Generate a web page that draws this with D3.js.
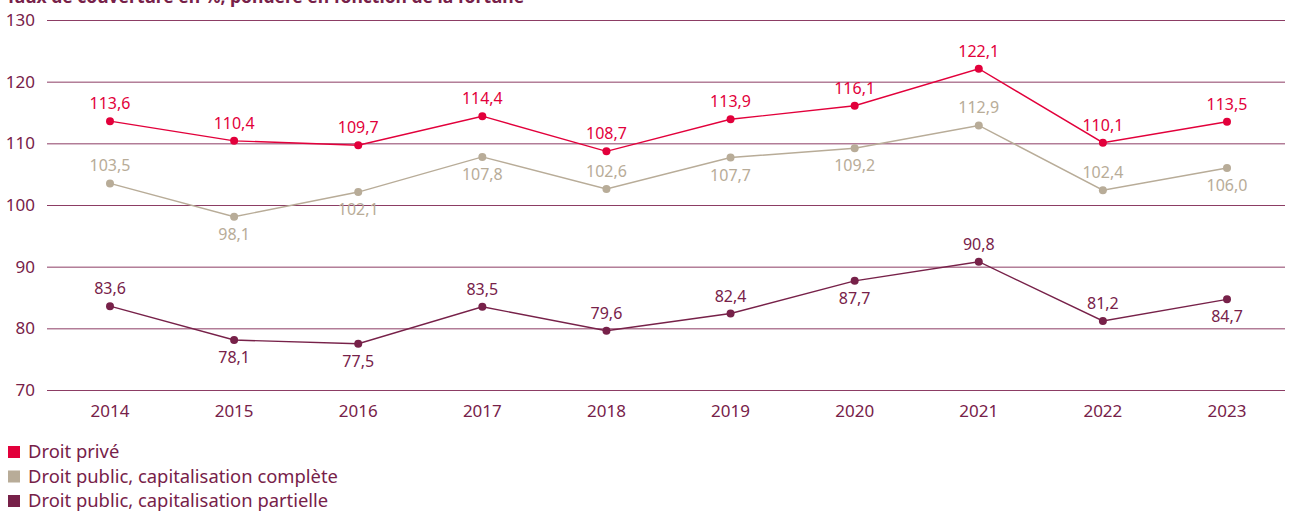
<!DOCTYPE html>
<html>
<head>
<meta charset="utf-8">
<script src="https://cdn.jsdelivr.net/npm/d3@7"></script>
<style>
  body { margin: 0; background: #fff; }
  text { font-family: "Noto Sans", "Open Sans", sans-serif; }
</style>
</head>
<body>
<svg id="chart"></svg>
<script>
var width = 1292,
    height = 513,
    margin = {top: 20, right: 7, bottom: 123, left: 47};

var years = ["2014", "2015", "2016", "2017", "2018", "2019", "2020", "2021", "2022", "2023"];
var yTicks = [70, 80, 90, 100, 110, 120, 130];

var droitPrive = [113.6, 110.4, 109.7, 114.4, 108.7, 113.9, 116.1, 122.1, 110.1, 113.5];
var publicComplete = [103.5, 98.1, 102.1, 107.8, 102.6, 107.7, 109.2, 112.9, 102.4, 106.0];
var publicPartielle = [83.6, 78.1, 77.5, 83.5, 79.6, 82.4, 87.7, 90.8, 81.2, 84.7];

// label above (1) or below (-1) the point
var posPrive = [1, 1, 1, 1, 1, 1, 1, 1, 1, 1];
var posComplete = [1, -1, -1, -1, 1, -1, -1, 1, 1, -1];
var posPartielle = [1, -1, -1, 1, 1, 1, -1, 1, 1, -1];

var series = [
    {name: "Droit privé", values: droitPrive, pos: posPrive, color: "#e2003b"},
    {name: "Droit public, capitalisation complète", values: publicComplete, pos: posComplete, color: "#b8ac98"},
    {name: "Droit public, capitalisation partielle", values: publicPartielle, pos: posPartielle, color: "#772149"}
];

var textColor = "#772149";

let svg = d3.select("#chart")
    .attr("width", width)
    .attr("height", height);

let x = d3.scalePoint()
    .domain(years)
    .range([110, 1227]);

let y = d3.scaleLinear()
    .domain([70, 130])
    .range([height - margin.bottom, margin.top]);

// Title (partly cut off at the top, as in the original)
svg.append("text")
    .attr("x", 6)
    .attr("y", 3)
    .attr("fill", textColor)
    .attr("font-weight", "bold")
    .attr("font-size", 17.5)
    .text("Taux de couverture en %, pondéré en fonction de la fortune");

// Grid lines
svg.append("g")
    .selectAll("line")
    .data(yTicks)
    .join("line")
    .attr("x1", margin.left)
    .attr("x2", width - margin.right)
    .attr("y1", d => y(d) + 0.5)
    .attr("y2", d => y(d) + 0.5)
    .attr("stroke", "#8c3d64")
    .attr("stroke-width", 1);

// Y axis labels
svg.append("g")
    .selectAll("text")
    .data(yTicks)
    .join("text")
    .attr("x", 35)
    .attr("y", d => y(d))
    .attr("dy", "0.35em")
    .attr("text-anchor", "end")
    .attr("fill", textColor)
    .attr("font-size", 17)
    .text(d => d);

// X axis labels
svg.append("g")
    .selectAll("text")
    .data(years)
    .join("text")
    .attr("x", d => x(d))
    .attr("y", 417)
    .attr("text-anchor", "middle")
    .attr("fill", textColor)
    .attr("font-size", 17)
    .text(d => d);

let line = d3.line()
    .x((d, i) => x(years[i]))
    .y(d => y(d));

let fmt = v => v.toFixed(1).replace(".", ",");

for (let s of series) {
    let g = svg.append("g");
    g.append("path")
        .attr("d", line(s.values))
        .attr("fill", "none")
        .attr("stroke", s.color)
        .attr("stroke-width", 1.4);
    g.selectAll("circle")
        .data(s.values)
        .join("circle")
        .attr("cx", (d, i) => x(years[i]))
        .attr("cy", d => y(d))
        .attr("r", 4)
        .attr("fill", s.color);
    g.selectAll("text")
        .data(s.values)
        .join("text")
        .attr("x", (d, i) => x(years[i]))
        .attr("y", (d, i) => s.pos[i] > 0 ? y(d) - 12 : y(d) + 23)
        .attr("text-anchor", "middle")
        .attr("fill", s.color)
        .attr("font-size", 16)
        .text(d => fmt(d));
}

// Legend
let legend = svg.append("g")
    .selectAll("g")
    .data(series)
    .join("g")
    .attr("transform", (d, i) => `translate(8, ${446 + i * 24.5})`);

legend.append("rect")
    .attr("width", 12)
    .attr("height", 12)
    .attr("fill", d => d.color);

legend.append("text")
    .attr("x", 20)
    .attr("y", 6)
    .attr("dy", "0.33em")
    .attr("fill", textColor)
    .attr("font-size", 18.4)
    .text(d => d.name);
</script>
</body>
</html>
